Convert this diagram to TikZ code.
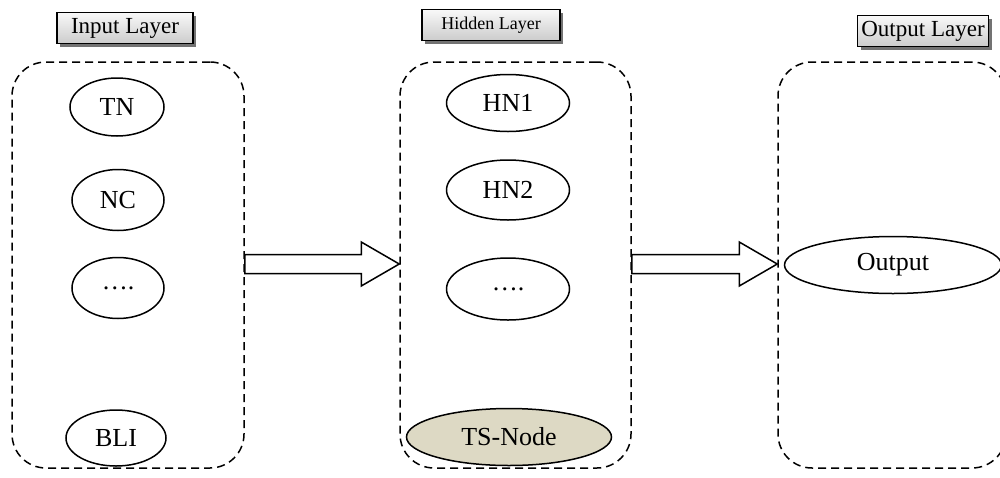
\documentclass[tikz,border=0pt]{standalone}
\usepackage{fontspec}
\setmainfont{Liberation Serif}
\usetikzlibrary{shapes.geometric,calc,shadows}
\definecolor{tsfill}{HTML}{DDD9C4}
\begin{document}
\begin{tikzpicture}[x=0.5pt,y=-0.5pt,
  layerbox/.style={draw, dash pattern=on 4pt off 2.5pt, line width=0.75pt, rounded corners=17pt, inner sep=0pt},
  neuron/.style={draw, ellipse, line width=0.75pt, inner sep=0pt, font=\fontsize{13}{15}\selectfont},
  header/.style={draw, line width=0.75pt, top color=gray!5, bottom color=gray!40, inner sep=0pt,
    minimum height=15.5pt, font=\fontsize{11.5}{14}\selectfont,
    drop shadow={shadow xshift=1.6pt, shadow yshift=-1.6pt, fill=black!55, opacity=1}},
  blockarrow/.style={draw, line width=0.75pt, fill=white, line join=miter}]

\useasboundingbox (0,0) rectangle (1000,477);

% layer containers
\node[layerbox, minimum width=116pt, minimum height=203pt] (inbox) at (128,265) {};
\node[layerbox, minimum width=115.5pt, minimum height=203pt] (hidbox) at (515.5,265) {};
\node[layerbox, minimum width=114pt, minimum height=203pt] (outbox) at (892,265) {};

% headers
\node[header, minimum width=68pt] (inhead) at (125,28) {Input Layer};
\node[header, minimum width=69pt, font=\fontsize{9}{11}\selectfont] (hidhead) at (491,25) {Hidden Layer};
\node[header, minimum width=65.5pt] (outhead) at (923,31) {Output Layer};

% input neurons
\node[neuron, minimum width=47pt, minimum height=29pt] (tn) at (117,107) {TN};
\node[neuron, minimum width=46pt, minimum height=30.5pt] (nc) at (118,200) {NC};
\node[neuron, minimum width=46pt, minimum height=30.5pt] (idots) at (118,288) {….};
\node[neuron, minimum width=50pt, minimum height=28pt] (bli) at (116,438) {BLI};

% hidden neurons
\node[neuron, minimum width=61.5pt, minimum height=28.5pt] (hn1) at (508,103) {HN1};
\node[neuron, minimum width=61.5pt, minimum height=30pt] (hn2) at (508,190) {HN2};
\node[neuron, minimum width=61.5pt, minimum height=31pt] (hdots) at (508,289) {….};
\node[neuron, fill=tsfill, minimum width=102.5pt, minimum height=28.5pt] (ts) at (509,437) {TS-Node};

% output neuron
\node[neuron, minimum width=108.5pt, minimum height=28.5pt] (out) at (893,265) {Output};

% block arrows
\coordinate (a1s) at (inbox.east |- 0,264);
\coordinate (a1e) at (hidbox.west |- 0,264);
\coordinate (a2s) at (hidbox.east |- 0,264);
\coordinate (a2e) at (outbox.west |- 0,264);
\draw[blockarrow] ($(a1s)+(0,-9.5)$) -- ($(a1e)+(-38,-9.5)$) -- ($(a1e)+(-38,-22)$) -- (a1e)
  -- ($(a1e)+(-38,22)$) -- ($(a1e)+(-38,9.5)$) -- ($(a1s)+(0,9.5)$) -- cycle;
\draw[blockarrow] ($(a2s)+(0,-9.5)$) -- ($(a2e)+(-38,-9.5)$) -- ($(a2e)+(-38,-22)$) -- (a2e)
  -- ($(a2e)+(-38,22)$) -- ($(a2e)+(-38,9.5)$) -- ($(a2s)+(0,9.5)$) -- cycle;
\end{tikzpicture}
\end{document}
